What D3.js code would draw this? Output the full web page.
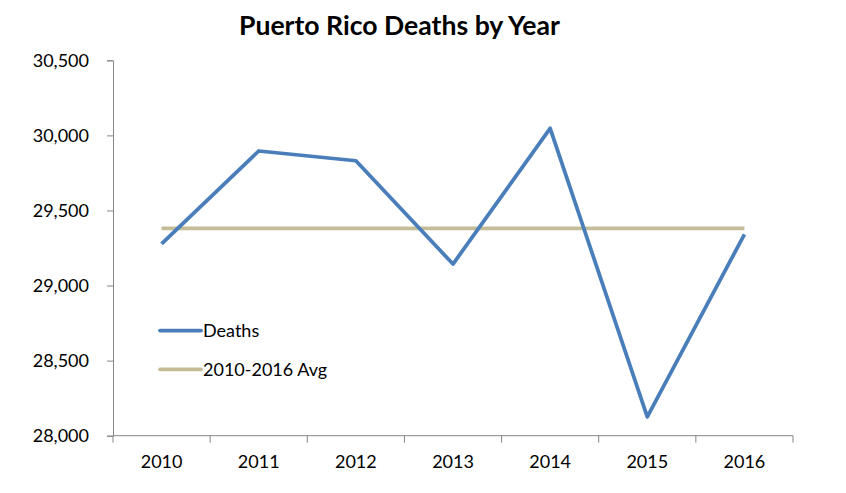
<!DOCTYPE html>
<html><head><meta charset="utf-8">
<script src="https://cdn.jsdelivr.net/npm/d3@7"></script>
<style>body{margin:0;background:#fff}svg{display:block}</style>
</head><body>
<script>
const years = ["2010","2011","2012","2013","2014","2015","2016"];
const deaths = [29277, 29896, 29831, 29143, 30047, 28125, 29341];
const avgValues = [29380, 29380, 29380, 29380, 29380, 29380, 29380];
const yTicks = [28000, 28500, 29000, 29500, 30000, 30500];
const seriesNames = ["Deaths", "2010-2016 Avg"];
const chartTitle = "Puerto Rico Deaths by Year";

(function(){
const W = 846, H = 493;
const mLeft = 113, mRight = 793, mTop = 60.3, mBottom = 435.7;
const font = "Lato, 'Open Sans', sans-serif";
const axisColor = "#868686";
const fs = 18;

const svg = d3.select("body").append("svg").attr("width", W).attr("height", H);

const x = d3.scaleBand().domain(years).range([mLeft, mRight]).padding(0);
const y = d3.scaleLinear().domain([28000, 30500]).range([mBottom, mTop]);

svg.append("text").attr("x", 399.5).attr("y", 35).attr("text-anchor", "middle")
  .attr("font-family", font).attr("font-weight", "bold").attr("font-size", 26.6)
  .attr("fill", "#000").text(chartTitle);

const yAxis = svg.append("g").attr("transform", `translate(${mLeft},0)`)
  .call(d3.axisLeft(y).tickValues(yTicks).tickSize(6).tickPadding(18).tickFormat(d3.format(",")));
yAxis.select(".domain").attr("stroke", axisColor);
yAxis.selectAll(".tick line").attr("stroke", axisColor);
yAxis.selectAll("text").attr("font-family", font).attr("font-size", fs).attr("fill", "#000");

const xAxis = svg.append("g").attr("transform", `translate(0,${mBottom})`)
  .call(d3.axisBottom(x).tickSize(0).tickPadding(19.5));
xAxis.select(".domain").attr("stroke", axisColor).attr("d", `M${mLeft},0H${mRight}`);
xAxis.selectAll("text").attr("font-family", font).attr("font-size", fs).attr("fill", "#000");
const bounds = years.map(d => x(d)).concat([x(years[years.length-1]) + x.bandwidth()]);
xAxis.selectAll(".bt").data(bounds).enter().append("line")
  .attr("x1", d => d).attr("x2", d => d).attr("y1", 0).attr("y2", 7)
  .attr("stroke", axisColor);

const cx = d => x(d) + x.bandwidth() / 2;
const line = d3.line().x((d, i) => cx(years[i])).y(d => y(d));

svg.append("path").datum(avgValues).attr("d", line).attr("fill", "none")
  .attr("stroke", "#c4bd97").attr("stroke-width", 3.75);
svg.append("path").datum(deaths).attr("d", line).attr("fill", "none")
  .attr("stroke", "#4a7ebb").attr("stroke-width", 3.75).attr("stroke-linejoin", "round");

const legColors = ["#4a7ebb", "#c4bd97"];
const legY = [330.5, 369.3];
seriesNames.forEach((n, i) => {
  svg.append("line").attr("x1", 160).attr("x2", 201).attr("y1", legY[i]).attr("y2", legY[i])
    .attr("stroke", legColors[i]).attr("stroke-width", 3.75).attr("stroke-linecap", "round");
  svg.append("text").attr("x", 203).attr("y", legY[i] + 6.4).attr("font-family", font)
    .attr("font-size", fs).attr("fill", "#000").text(n);
});
})();
</script>
</body></html>
